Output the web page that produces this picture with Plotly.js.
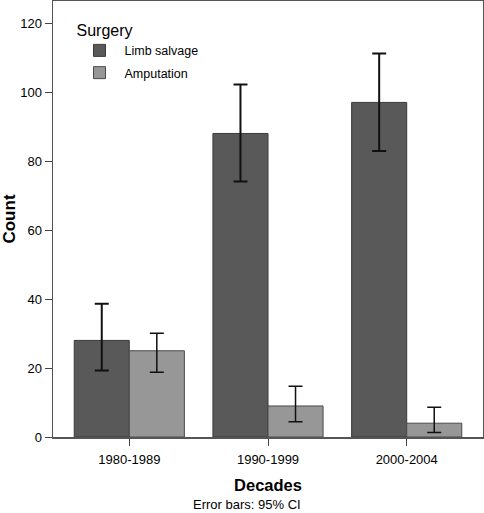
<!DOCTYPE html>
<html>
<head>
<meta charset="utf-8">
<script src="https://cdn.plot.ly/plotly-3.0.1.min.js"></script>
<style>html,body{margin:0;padding:0;background:#fff;}#chart{width:484px;height:513px;}</style>
</head>
<body>
<div id="chart"></div>
<script>
const decades = ["1980-1989", "1990-1999", "2000-2004"];
const limbSalvage = [28, 88, 97];
const limbSalvageUpper = [38.6, 102.2, 111.2];
const limbSalvageLower = [19.3, 74.1, 82.9];
const amputation = [25, 9, 4];
const amputationUpper = [30.1, 14.7, 8.6];
const amputationLower = [18.8, 4.4, 1.3];

function plus(v, u) { return v.map((x, i) => u[i] - x); }
function minus(v, l) { return v.map((x, i) => x - l[i]); }

const font = "Liberation Sans, Arial, sans-serif";

const traces = [
  {
    type: "bar", name: "Limb salvage", x: decades, y: limbSalvage, legendgroup: "a",
    marker: {color: "#595959", line: {color: "#3a3a3a", width: 1}},
    error_y: {type: "data", symmetric: false, array: plus(limbSalvage, limbSalvageUpper),
      arrayminus: minus(limbSalvage, limbSalvageLower), color: "#111", thickness: 2, width: 7}
  },
  {
    type: "bar", name: "Amputation", x: decades, y: amputation, legendgroup: "b",
    marker: {color: "#979797", line: {color: "#4a4a4a", width: 1}},
    error_y: {type: "data", symmetric: false, array: plus(amputation, amputationUpper),
      arrayminus: minus(amputation, amputationLower), color: "#111", thickness: 1.5, width: 7}
  }
];

const layout = {
  width: 484, height: 513,
  margin: {l: 53, r: 1, t: 1, b: 76},
  paper_bgcolor: "#fff", plot_bgcolor: "#fff",
  barmode: "group", bargap: 0.206, bargroupgap: 0,
  font: {family: font, size: 12, color: "#000"},
  showlegend: true,
  legend: {
    x: 0.05, y: 0.968, xanchor: "left", yanchor: "top",
    bgcolor: "rgba(0,0,0,0)", borderwidth: 0,
    title: {text: "Surgery", font: {size: 16, family: font}},
    font: {size: 12.5, family: font},
    traceorder: "grouped", tracegroupgap: 3, itemwidth: 40
  },
  xaxis: {
    type: "category", range: [-0.55, 2.55],
    showline: true, linecolor: "#555", linewidth: 1.5, mirror: true,
    ticks: "outside", ticklen: 7, tickcolor: "#444", ticklabelstandoff: 3,
    showgrid: false, zeroline: false,
    tickfont: {size: 13, family: font},
    title: {text: "<b>Decades</b>", font: {size: 16.5, family: font}, standoff: 13},
    automargin: false
  },
  yaxis: {
    range: [0, 126.4], tickvals: [0, 20, 40, 60, 80, 100, 120],
    showline: true, linecolor: "#555", linewidth: 1.5, mirror: true,
    ticks: "outside", ticklen: 7, tickcolor: "#444",
    showgrid: false, zeroline: false,
    tickfont: {size: 13, family: font},
    title: {text: "<b>Count</b>", font: {size: 17, family: font}, standoff: 6},
    automargin: false
  },
  annotations: [
    {text: "Error bars: 95% CI", xref: "paper", yref: "paper", x: 0.45, y: 0, yshift: -67,
     showarrow: false, font: {size: 13, family: font}, xanchor: "center", yanchor: "middle"}
  ]
};

Plotly.newPlot("chart", traces, layout, {displayModeBar: false, staticPlot: true});
</script>
</body>
</html>
